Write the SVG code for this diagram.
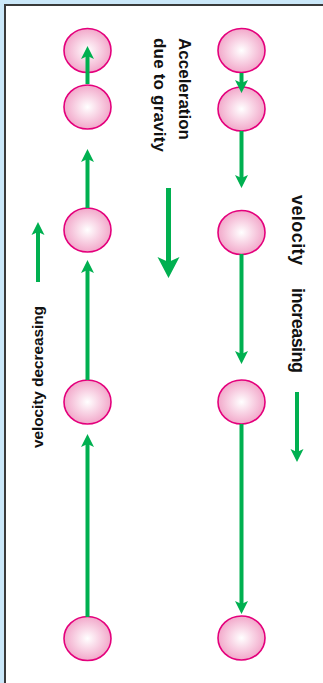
<svg xmlns="http://www.w3.org/2000/svg" width="323" height="683" viewBox="0 0 323 683">
<defs>
<radialGradient id="ballGrad" cx="50%" cy="50%" r="50%">
<stop offset="0" stop-color="#ffffff"/>
<stop offset="1" stop-color="#f2a8ca"/>
</radialGradient>
<marker id="headS" markerUnits="userSpaceOnUse" markerWidth="14" markerHeight="14" viewBox="0 0 14 14" refX="3" refY="7" orient="auto">
<path d="M0,0.5 L13,7 L0,13.5 L3,7 z" fill="#00b050"/>
</marker>
<marker id="headL" markerUnits="userSpaceOnUse" markerWidth="23" markerHeight="24" viewBox="0 0 23 24" refX="5" refY="11.5" orient="auto">
<path d="M0,0.5 L21,11.5 L0,22.5 L5,11.5 z" fill="#00b050"/>
</marker>
</defs>
<style>
.ball{fill:url(#ballGrad);stroke:#e4007c;stroke-width:1.6}
.arr{stroke:#00b050;stroke-width:4;fill:none;marker-end:url(#headS)}
.lbl{font-family:"Liberation Sans",Arial,sans-serif;font-weight:bold;fill:#111}
</style>
<rect x="0" y="0" width="323" height="683" fill="#cbe8f9"/>
<rect x="5" y="5" width="330" height="690" fill="#ffffff" stroke="#3a3a3a" stroke-width="2"/>

<g id="left-balls">
<ellipse id="L1" class="ball" cx="87.5" cy="50.5" rx="23.5" ry="22"/>
<ellipse id="L2" class="ball" cx="87.5" cy="107" rx="23.5" ry="22"/>
<ellipse id="L3" class="ball" cx="87.5" cy="230" rx="23.5" ry="22"/>
<ellipse id="L4" class="ball" cx="87.5" cy="402" rx="23.5" ry="22"/>
<ellipse id="L5" class="ball" cx="87.5" cy="638.5" rx="23.5" ry="22"/>
</g>
<g id="right-balls">
<ellipse id="R1" class="ball" cx="241.5" cy="50.5" rx="23.5" ry="22"/>
<ellipse id="R2" class="ball" cx="241.5" cy="109" rx="23.5" ry="22"/>
<ellipse id="R3" class="ball" cx="241.5" cy="232.5" rx="23.5" ry="22"/>
<ellipse id="R4" class="ball" cx="241.5" cy="402" rx="23.5" ry="22"/>
<ellipse id="R5" class="ball" cx="241.5" cy="638" rx="23.5" ry="22"/>
</g>

<g id="connectors">
<line class="arr" x1="87.5" y1="84" x2="87.5" y2="56"/>
<line class="arr" x1="87.5" y1="208" x2="87.5" y2="159"/>
<line class="arr" x1="87.5" y1="380" x2="87.5" y2="270"/>
<line class="arr" x1="87.5" y1="617" x2="87.5" y2="444"/>
<line class="arr" x1="241.5" y1="73" x2="241.5" y2="83"/>
<line class="arr" x1="241.5" y1="131" x2="241.5" y2="178"/>
<line class="arr" x1="241.5" y1="254" x2="241.5" y2="354"/>
<line class="arr" x1="241.5" y1="424" x2="241.5" y2="604"/>
<line class="arr" x1="38" y1="282" x2="38" y2="232"/>
<line class="arr" x1="297" y1="392" x2="297" y2="452"/>
<line x1="168.5" y1="188" x2="168.5" y2="262" stroke="#00b050" stroke-width="5" marker-end="url(#headL)"/>
</g>

<g id="labels">
<text class="lbl" font-size="17" transform="translate(178.5,38) rotate(90)" textLength="102">Acceleration</text>
<text class="lbl" font-size="17" transform="translate(153.5,38) rotate(90)" textLength="114">due to gravity</text>
<text class="lbl" font-size="18" transform="translate(292,195) rotate(90)" textLength="70">velocity</text>
<text class="lbl" font-size="18" transform="translate(292,288) rotate(90)" textLength="85">increasing</text>
<text class="lbl" font-size="15.5" transform="translate(42.5,448) rotate(-90)" textLength="142">velocity decreasing</text>
</g>
</svg>
